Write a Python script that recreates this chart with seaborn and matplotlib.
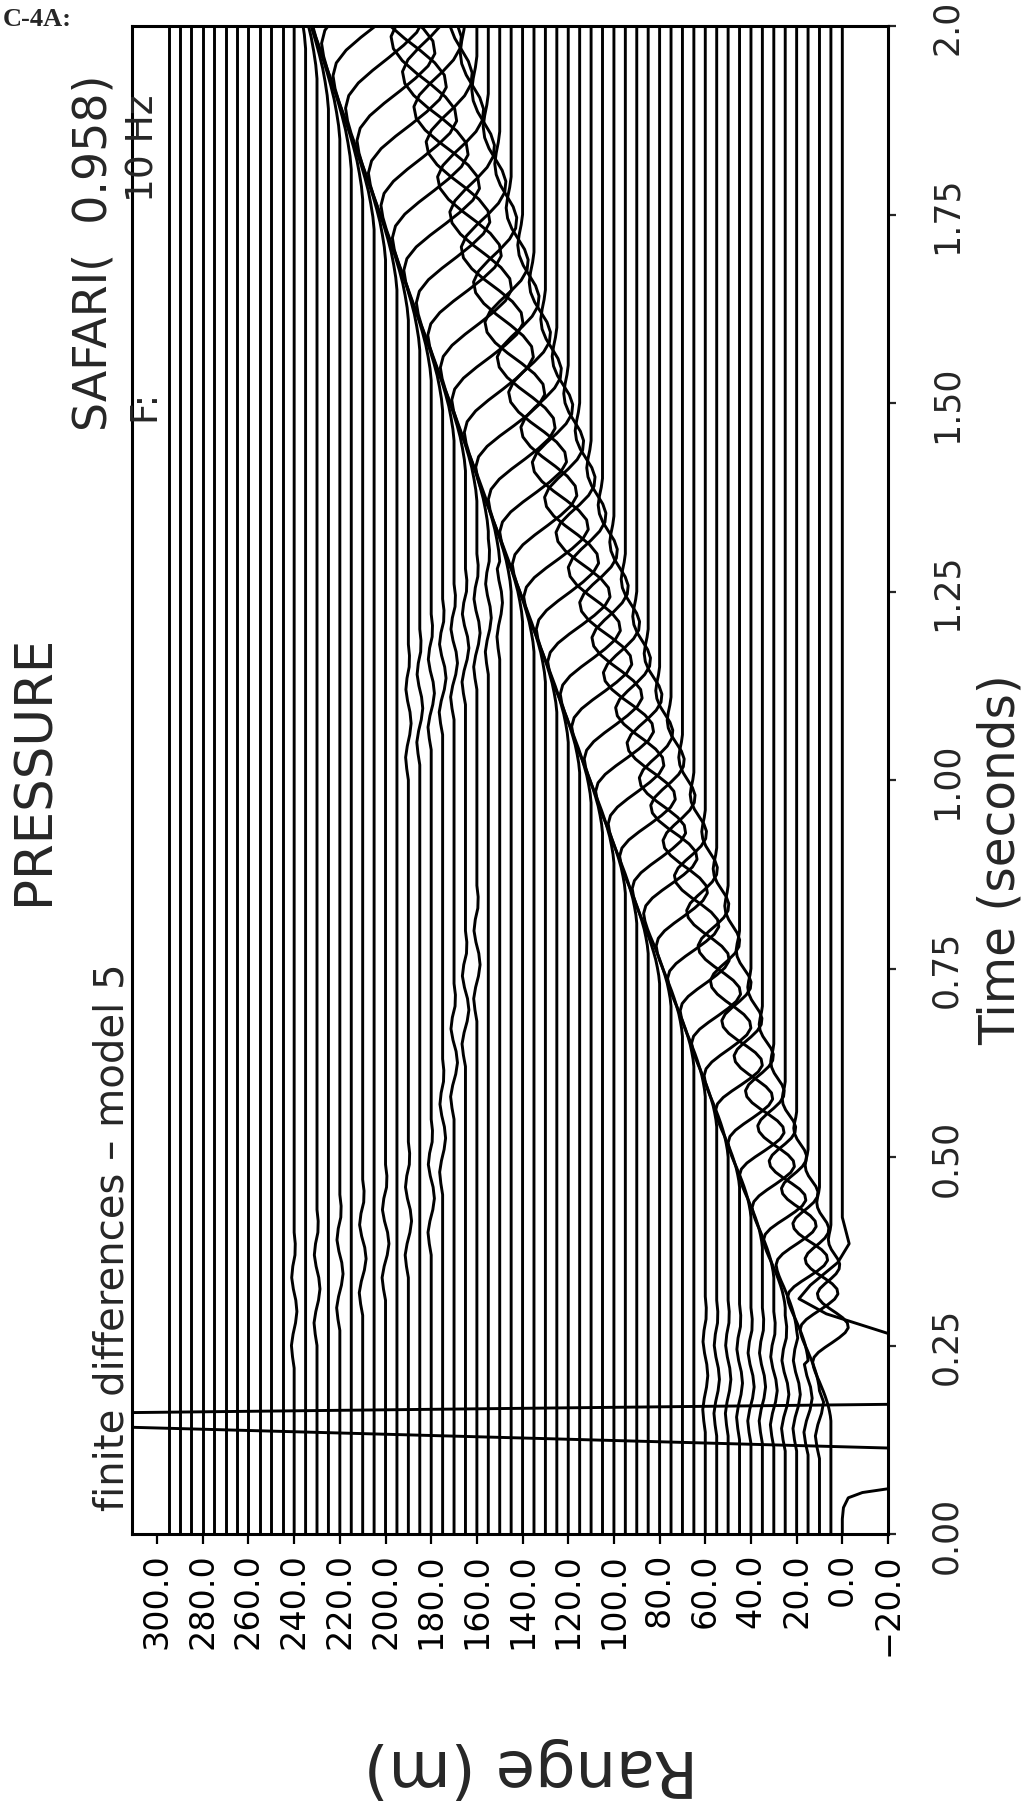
import numpy as np
import pandas as pd
import matplotlib
matplotlib.use("Agg")
import matplotlib.pyplot as plt
import seaborn as sns

# ------------------------------------------------------------------
# Data
# ------------------------------------------------------------------
# receiver ranges (m) of the wiggle traces
trace_range_m = [0, 5, 10, 15, 20, 25, 30, 35, 40, 45, 50, 55, 60, 65, 70, 75,
                 80, 85, 90, 95, 100, 105, 110, 115, 120, 125, 130, 135, 140,
                 145, 150, 155, 160, 165, 170, 175, 180, 185, 190, 195, 200,
                 205, 210, 215, 220, 225, 230, 235, 240, 245, 250, 255, 260,
                 265, 270, 275, 280, 285, 290, 295]

# slow interface-wave packet, traces 5 ... 295 m
wave_onset_s = [0.15, 0.19, 0.23, 0.27, 0.30, 0.34, 0.38, 0.42, 0.46, 0.50,
                0.54, 0.58, 0.62, 0.66, 0.70, 0.73, 0.77, 0.81, 0.85, 0.89,
                0.93, 0.97, 1.01, 1.05, 1.09, 1.13, 1.17, 1.21, 1.25, 1.29,
                1.33, 1.37, 1.41, 1.45, 1.49, 1.53, 1.57, 1.61, 1.65, 1.69,
                1.73, 1.77, 1.81, 1.85, 1.89, 1.93, 1.97, 2.01, 2.05, 2.09,
                2.13, 2.17, 2.21, 2.25, 2.29, 2.33, 2.37, 2.41, 2.45]
wave_duration_s = [0.26, 0.27, 0.28, 0.29, 0.30, 0.31, 0.32, 0.33, 0.34, 0.36,
                   0.37, 0.38, 0.39, 0.40, 0.41, 0.42, 0.43, 0.44, 0.45, 0.46,
                   0.47, 0.48, 0.49, 0.50, 0.51, 0.52, 0.53, 0.54, 0.55, 0.57,
                   0.58, 0.59, 0.60, 0.61, 0.62, 0.63, 0.64, 0.65, 0.66, 0.67,
                   0.68, 0.69, 0.70, 0.71, 0.72, 0.73, 0.74, 0.75, 0.76, 0.78,
                   0.79, 0.80, 0.81, 0.82, 0.83, 0.84, 0.85, 0.86, 0.87]
wave_amp_m = [8.0, 8.5, 9.0, 9.0, 9.5, 9.5, 10.0, 10.0, 10.5, 10.5,
              11.0, 11.0, 11.5, 11.5, 12.0, 12.0, 12.5, 12.5, 13.0, 13.0,
              13.5, 13.5, 14.0, 14.0, 14.5, 14.5, 15.0, 15.0, 15.5, 15.5,
              16.0, 16.0, 16.5, 16.5, 17.0, 17.0, 17.0, 17.5, 17.5, 17.5,
              18.0, 18.0, 18.0, 18.0, 18.0, 18.0, 18.0, 18.0, 18.0, 18.0,
              18.0, 18.0, 18.0, 18.0, 18.0, 18.0, 18.0, 18.0, 18.0]
# normalised packet shape (41 samples over the packet duration)
wavelet_val = [0.00, 0.03, 0.08, 0.14, 0.22, 0.31, 0.41, 0.52, 0.63, 0.75,
               0.86, 0.95, 1.00, 0.92, 0.68, 0.32, -0.08, -0.46, -0.78, -0.95,
               -0.90, -0.66, -0.30, 0.10, 0.45, 0.68, 0.74, 0.60, 0.32, 0.00,
               -0.28, -0.45, -0.48, -0.38, -0.20, -0.02, 0.10, 0.14, 0.10,
               0.04, 0.00]

# small ripples seen on some traces
ripple_range_m = [10, 15, 20, 25, 30, 35, 40, 45, 50, 55, 60,
                  240, 230, 220, 210, 200, 190, 180, 175, 170, 165, 160,
                  190, 185, 180, 175, 170, 165, 160, 155, 150]
ripple_onset_s = [0.10, 0.105, 0.11, 0.11, 0.115, 0.12, 0.12, 0.125, 0.13, 0.13, 0.135,
                  0.22, 0.25, 0.27, 0.29, 0.31, 0.34, 0.37, 0.45, 0.55, 0.62, 0.68,
                  1.00, 1.02, 1.04, 1.06, 1.08, 1.10, 1.12, 1.14, 1.16]
ripple_amp_m = [1.8, 1.8, 1.6, 1.6, 1.5, 1.4, 1.4, 1.3, 1.2, 1.2, 1.1,
                1.2, 1.3, 1.4, 1.5, 1.5, 1.4, 1.4, 1.3, 1.5, 1.5, 1.4,
                1.2, 1.3, 1.4, 1.5, 1.5, 1.5, 1.4, 1.3, 1.2]
ripple_val = [0.0, 0.6, 1.0, 0.4, -0.5, -1.0, -0.6, 0.3, 0.9, 0.5, -0.3, -0.4, 0.0]

# near-source trace (0 m) with its huge, clipped excursions
near_t_s = [0.000, 0.020, 0.035, 0.048, 0.055, 0.060, 0.070, 0.090, 0.1107,
            0.1431, 0.1480, 0.1520, 0.1560, 0.1604, 0.1733, 0.2000, 0.2275,
            0.2660, 0.2920, 0.3120, 0.3300, 0.3600, 0.3850, 0.4200, 2.050]
near_dev_m = [0.0, 0.0, -0.5, -2.6, -8.8, -20.0, -45.0, -60.0, -60.0,
              330.0, 345.0, 350.0, 345.0, 330.0, -60.0, -70.0, -60.0,
              -20.0, 7.0, 19.0, 14.0, 2.0, -3.0, 0.0, 0.0]

range_ticks = [-20, 0, 20, 40, 60, 80, 100, 120, 140, 160, 180, 200, 220,
               240, 260, 280, 300]
range_tick_labels = ["\u221220.0", "0.0", "20.0", "40.0", "60.0", "80.0",
                     "100.0", "120.0", "140.0", "160.0", "180.0", "200.0",
                     "220.0", "240.0", "260.0", "280.0", "300.0"]
time_ticks = [0.0, 0.25, 0.5, 0.75, 1.0, 1.25, 1.5, 1.75, 2.0]
time_tick_labels = ["0.00", "0.25", "0.50", "0.75", "1.00", "1.25", "1.50",
                    "1.75", "2.0"]

# ------------------------------------------------------------------
# Build trace polylines (vertices only from the values above)
# ------------------------------------------------------------------
T_END = 2.05
RIPPLE_DT = 0.015
wavelet_u = np.linspace(0.0, 1.0, len(wavelet_val))

rows = []
for t, d in zip(near_t_s, near_dev_m):
    rows.append((0, trace_range_m[0] + d, t))

for i, r in enumerate(trace_range_m[1:]):
    onset = wave_onset_s[i]
    dur = wave_duration_s[i]
    amp = wave_amp_m[i]
    verts = [(0.0, 0.0)]
    rip = sorted([(ripple_onset_s[k], ripple_amp_m[k])
                  for k in range(len(ripple_range_m)) if ripple_range_m[k] == r])
    for ro, ra in rip:
        for k, v in enumerate(ripple_val):
            tt = ro + k * RIPPLE_DT
            if tt < onset and tt > verts[-1][0]:
                verts.append((tt, ra * v))
    if onset < T_END:
        for u, v in zip(wavelet_u, wavelet_val):
            verts.append((onset + u * dur, amp * v))
    if verts[-1][0] < T_END:
        verts.append((T_END, 0.0))
    for t, d in verts:
        rows.append((i + 1, r + d, t))

df = pd.DataFrame(rows, columns=["trace", "range_m", "time_s"])

# ------------------------------------------------------------------
# Figure
# ------------------------------------------------------------------
sns.set_style("white")
plt.rcParams["font.family"] = ["DejaVu Sans"]

W, H = 1023, 1808
AX_L, AX_R, AX_T, AX_B = 132, 888, 27, 1535
fig = plt.figure(figsize=(W / 100, H / 100), dpi=100)
ax = fig.add_axes([AX_L / W, (H - AX_B) / H, (AX_R - AX_L) / W, (AX_B - AX_T) / H])

sns.lineplot(data=df, x="range_m", y="time_s", units="trace", estimator=None,
             sort=False, color="black", linewidth=2.1, legend=False, ax=ax,
             solid_joinstyle="round")

ax.set_xlim(311, -20)
ax.set_ylim(0.0, 2.0)
ax.set_xlabel("")
ax.set_ylabel("")

for s in ax.spines.values():
    s.set_visible(True)
    s.set_linewidth(2.2)
    s.set_color("black")

ax.set_xticks(range_ticks)
ax.set_xticklabels(range_tick_labels, rotation=90, fontsize=24)
ax.tick_params(axis="x", direction="out", length=7, width=1.6, pad=6,
               bottom=True, top=False, colors="black")

ax.yaxis.tick_right()
ax.set_yticks(time_ticks)
ax.set_yticklabels(time_tick_labels, rotation=90, fontsize=25)
ax.tick_params(axis="y", direction="out", length=6, width=1.6, pad=24,
               left=False, right=True, labelleft=False, labelright=True)
for lab in ax.get_yticklabels():
    lab.set_va("center")


def fx(x):
    return x / W


def fy(y):
    return 1 - y / H


fig.text(fx(3), fy(8), "C-4A:", ha="left", va="top", fontsize=19,
         fontweight="bold", family=["Liberation Serif", "DejaVu Serif"])
fig.text(fx(35), fy(770), "PRESSURE", rotation=90, ha="center", va="center",
         fontsize=37)
fig.text(fx(113), fy(1511), "finite differences \u2013 model 5", rotation=90,
         rotation_mode="anchor", ha="left", va="center", fontsize=29)
fig.text(fx(94), fy(75), "SAFARI(  0.958)", rotation=90,
         rotation_mode="anchor", ha="right", va="center", fontsize=33)
fig.text(fx(144), fy(421), "F:", rotation=90, rotation_mode="anchor",
         ha="left", va="center", fontsize=27)
fig.text(fx(144), fy(95), "10 Hz", rotation=90, rotation_mode="anchor",
         ha="right", va="center", fontsize=27)
fig.text(fx(1001), fy(860), "Time (seconds)", rotation=90, ha="center",
         va="center", fontsize=35)
fig.text(fx(531), fy(1768), "Range (m)", rotation=180, ha="center",
         va="center", fontsize=46)

fig.savefig("out.png", dpi=100, facecolor="white")
